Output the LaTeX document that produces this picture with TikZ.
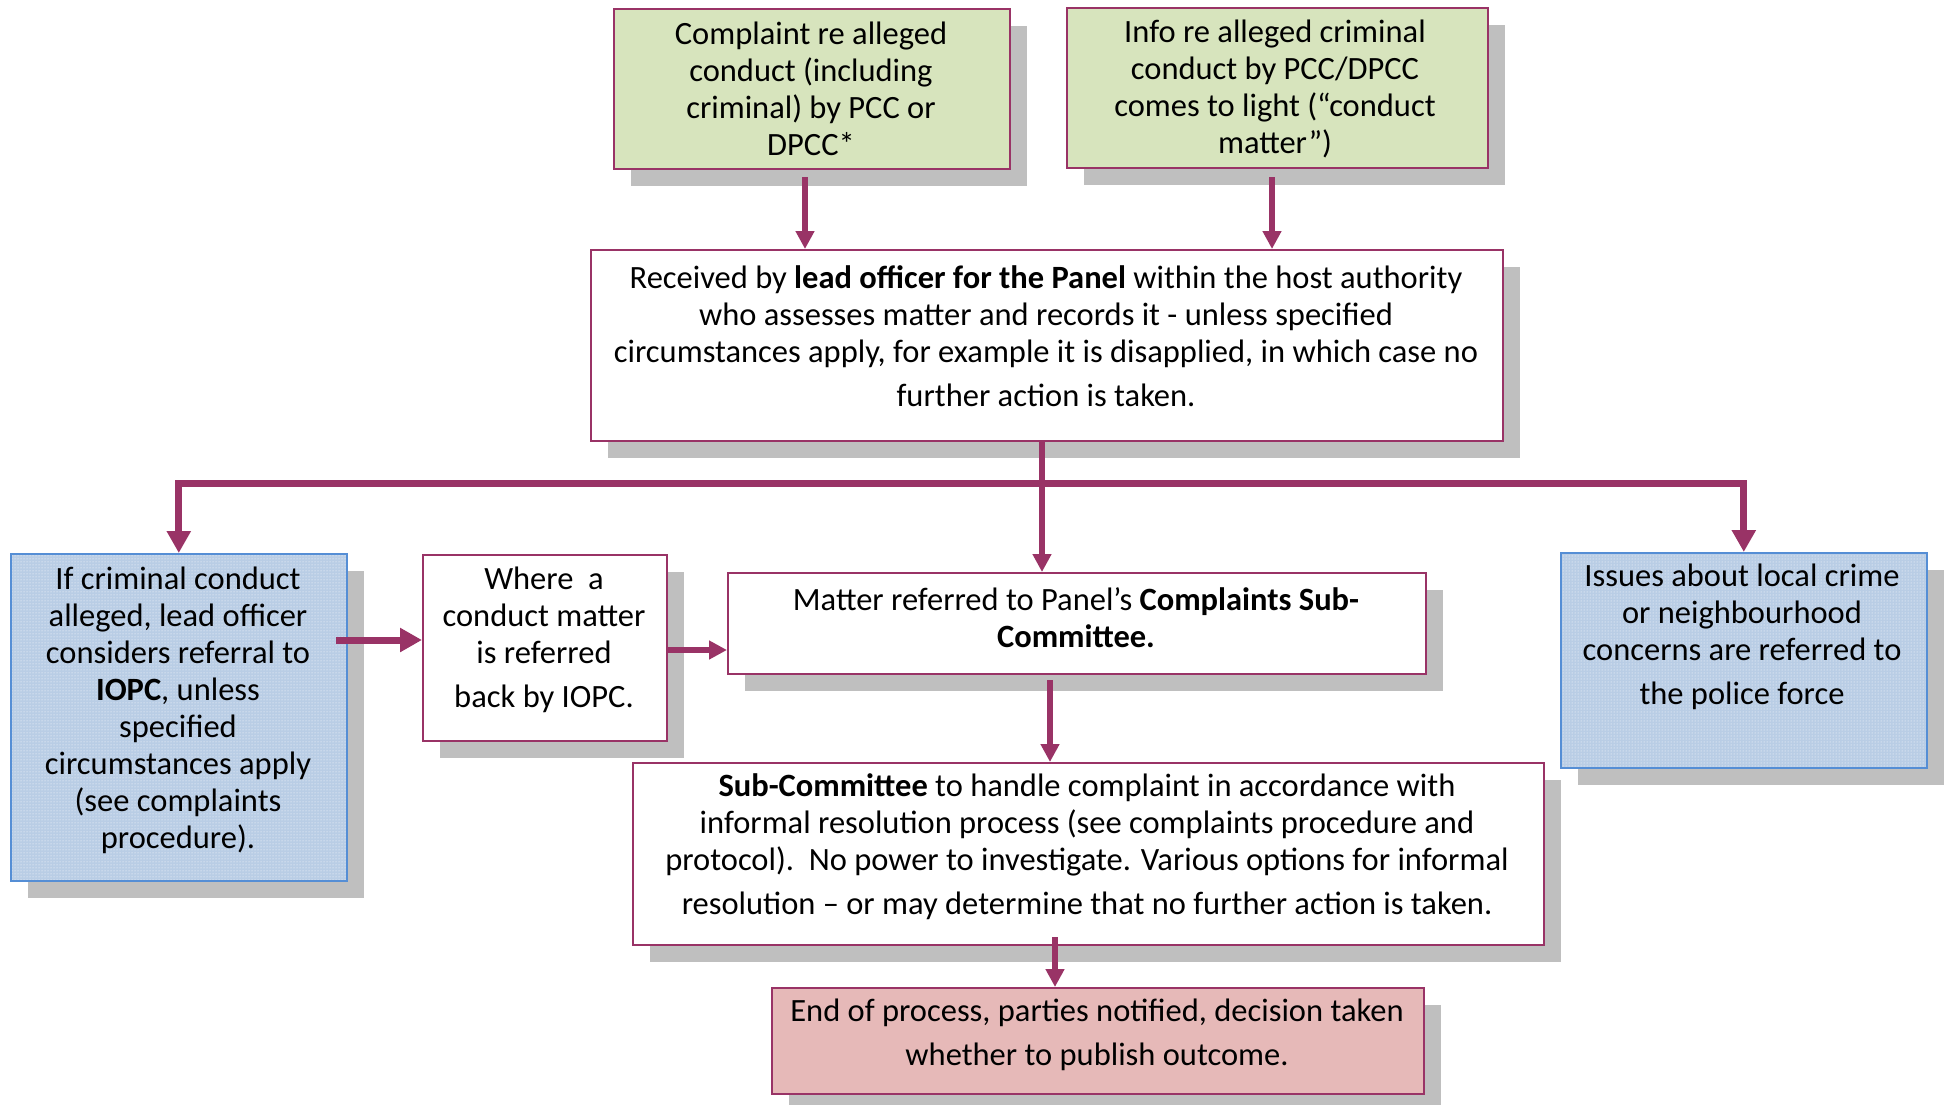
\documentclass[tikz,border=0pt]{standalone}
\usepackage{fontspec}
\setmainfont{Carlito}
\usetikzlibrary{arrows.meta,shadows,patterns}
\definecolor{plum}{HTML}{993366}
\definecolor{greenF}{HTML}{D7E4BD}
\definecolor{pinkF}{HTML}{E6B9B8}
\definecolor{blueF}{HTML}{B9CDE5}
\definecolor{blueB}{HTML}{558ED5}
\definecolor{shade}{HTML}{BFBFBF}
\tikzset{
  shbox/.style={anchor=north west, inner sep=0pt, line width=1.6pt,
    drop shadow={shadow xshift=17pt, shadow yshift=-17pt, fill=shade, opacity=1}},
  pbox/.style={shbox, draw=plum, fill=white},
  gbox/.style={shbox, draw=plum, fill=greenF},
  ebox/.style={shbox, draw=plum, fill=pinkF},
  bbox/.style={shbox, draw=blueB, preaction={fill=blueF}, pattern=dots, pattern color=white},
  txt/.style={align=center, inner sep=0pt, font=\fontsize{32.5}{37}\selectfont},
  arr/.style={draw=plum, line width=6pt, -{Triangle[width=18pt,length=18pt]}},
  arrB/.style={draw=plum, line width=7pt, -{Triangle[width=23pt,length=22pt]}},
}
\begin{document}
\begin{tikzpicture}[x=1pt,y=-1pt]
\useasboundingbox (0,0) rectangle (1946,1105);
% boxes
\node[gbox, minimum width=396pt, minimum height=160pt] (g1) at (613,8) {};
\node[gbox, minimum width=421pt, minimum height=160pt] (g2) at (1066,7) {};
\node[pbox, minimum width=912pt, minimum height=191pt] (lead) at (590,249) {};
\node[bbox, minimum width=336pt, minimum height=327pt] (blueL) at (10,553) {};
\node[pbox, minimum width=244pt, minimum height=186pt] (where) at (422,554) {};
\node[pbox, minimum width=698pt, minimum height=101pt] (matter) at (727,572) {};
\node[bbox, minimum width=366pt, minimum height=215pt] (blueR) at (1560,552) {};
\node[pbox, minimum width=911pt, minimum height=182pt] (sub) at (632,762) {};
\node[ebox, minimum width=652pt, minimum height=106pt] (endb) at (771,987) {};
% texts
\node[txt] (t1) at (811,89) {Complaint re alleged\\conduct (including\\criminal) by PCC or\\DPCC*};
\node[txt] (t2) at (1275,89) {Info re alleged criminal\\conduct by PCC/DPCC\\comes to light (“conduct\\matter”)};
\node[txt] (t3) at (1046,336) {Received by \textbf{lead officer for the Panel} within the host authority\\who assesses matter and records it - unless specified\\circumstances apply, for example it is disapplied, in which case no\\[7pt]further action is taken.};
\node[txt] (t4) at (178,710) {If criminal conduct\\alleged, lead officer\\considers referral to\\\textbf{IOPC}, unless\\specified\\circumstances apply\\(see complaints\\procedure).};
\node[txt] (t5) at (544,640) {Where~~a\\conduct matter\\is referred\\[7pt]back by IOPC.};
\node[txt] (t6) at (1076,618) {Matter referred to Panel’s \textbf{Complaints Sub-}\\\textbf{Committee.}};
\node[txt] (t7) at (1742,637) {Issues about local crime\\or neighbourhood\\concerns are referred to\\[7pt]the police force};
\node[txt] (t8) at (1087,847) {\textbf{Sub-Committee} to handle complaint in accordance with\\informal resolution process (see complaints procedure and\\protocol).~~No power to investigate. Various options for informal\\[7pt]resolution – or may determine that no further action is taken.};
\node[txt] (t9) at (1097,1035) {End of process, parties notified, decision taken\\[7pt]whether to publish outcome.};
% connectors
\coordinate (s1) at (805,177);
\coordinate (s2) at (1272,177);
\coordinate (s3) at (1042,440);
\coordinate (split) at (1042,483);
\coordinate (s4) at (336,640);
\coordinate (s5) at (666,650);
\coordinate (s6) at (1050,680);
\coordinate (s7) at (1055,937);
\draw[arr] (s1) -- (s1 |- lead.north);
\draw[arr] (s2) -- (s2 |- lead.north);
\draw[arr] (s3) -- (s3 |- matter.north);
\draw[arrB, line width=7pt] (split) -| (blueL.north);
\draw[arrB, line width=7pt] (split) -| (blueR.north);
\draw[arrB] (s4) -- (s4 -| where.west);
\draw[arr] (s5) -- (s5 -| matter.west);
\draw[arr] (s6) -- (s6 |- sub.north);
\draw[arr] (s7) -- (s7 |- endb.north);
\end{tikzpicture}
\end{document}
